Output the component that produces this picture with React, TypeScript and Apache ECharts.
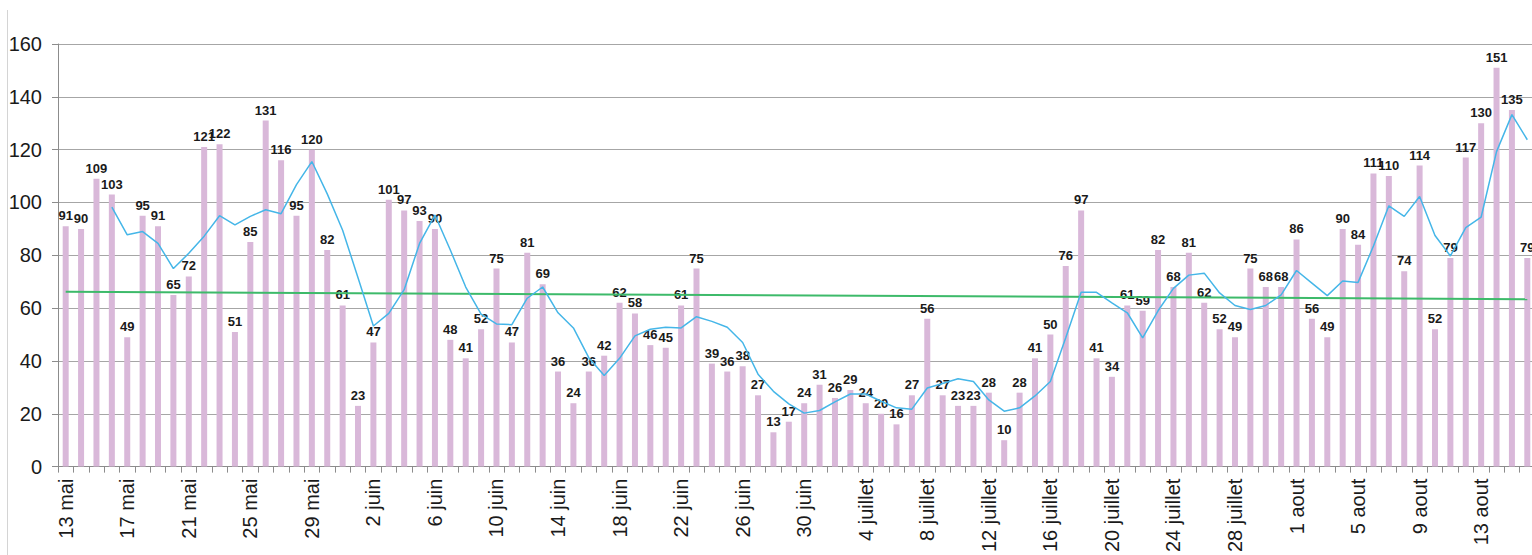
import React, { useEffect, useRef } from "react";
import * as echarts from "echarts";

// Category labels: daily from 13 mai to 16 aout
const monthSpans: [string, number, number][] = [
  ["mai", 13, 31],
  ["juin", 1, 30],
  ["juillet", 1, 31],
  ["aout", 1, 16],
];
const categories: string[] = [];
monthSpans.forEach(([m, a, b]) => {
  for (let d = a; d <= b; d++) categories.push(`${d} ${m}`);
});

// Daily values (bars)
const dailyValues: number[] = [
  91, 90, 109, 103, 49, 95, 91, 65, 72, 121,
  122, 51, 85, 131, 116, 95, 120, 82, 61, 23,
  47, 101, 97, 93, 90, 48, 41, 52, 75, 47,
  81, 69, 36, 24, 36, 42, 62, 58, 46, 45,
  61, 75, 39, 36, 38, 27, 13, 17, 24, 31,
  26, 29, 24, 20, 16, 27, 56, 27, 23, 23,
  28, 10, 28, 41, 50, 76, 97, 41, 34, 61,
  59, 82, 68, 81, 62, 52, 49, 75, 68, 68,
  86, 56, 49, 90, 84, 111, 110, 74, 114, 52,
  79, 117, 130, 151, 135, 79,
];

// Linear trend line end points
const trendStart = 66.2;
const trendEnd = 63.4;

// Y axis ticks
const yMin = 0;
const yMax = 160;
const yStep = 20;

// 4-period moving average trendline of the daily values (as in the original chart)
const maPeriod = 4;
const movingAvg: (number | null)[] = dailyValues.map((_, i) => {
  if (i < maPeriod - 1) return null;
  let s = 0;
  for (let k = i - maPeriod + 1; k <= i; k++) s += dailyValues[k];
  return s / maPeriod;
});

const trendData: (number | null)[] = categories.map((_, i) =>
  i === 0 ? trendStart : i === categories.length - 1 ? trendEnd : null
);

export default function App() {
  const ref = useRef<HTMLDivElement>(null);
  useEffect(() => {
    if (!ref.current) return;
    const chart = echarts.init(ref.current, null, { renderer: "svg" });
    const font = "Liberation Sans, Arial, sans-serif";
    chart.setOption({
      animation: false,
      backgroundColor: "#ffffff",
      grid: { left: 58, top: 44, width: 1477, height: 427, containLabel: false },
      xAxis: {
        type: "category",
        data: categories,
        boundaryGap: true,
        axisLine: { show: true, lineStyle: { color: "#8c8c8c", width: 1 } },
        axisTick: { show: true, interval: 0, length: 6, lineStyle: { color: "#8c8c8c" } },
        axisLabel: {
          interval: 3,
          rotate: 90,
          fontSize: 20,
          fontFamily: font,
          color: "#1a1a1a",
          margin: 12,
        },
        splitLine: { show: false },
      },
      yAxis: {
        type: "value",
        min: yMin,
        max: yMax,
        interval: yStep,
        axisLine: { show: true, lineStyle: { color: "#8c8c8c", width: 1 } },
        axisTick: { show: true, length: 6, lineStyle: { color: "#8c8c8c" } },
        axisLabel: { fontSize: 20, fontFamily: font, color: "#1a1a1a", margin: 16 },
        splitLine: { show: true, lineStyle: { color: "#a6a6a6", width: 1 } },
      },
      graphic: [
        {
          type: "line",
          shape: { x1: 7.5, y1: 10, x2: 7.5, y2: 560 },
          style: { stroke: "#d4d4d4", lineWidth: 1 },
          silent: true,
        },
      ],
      series: [
        {
          type: "bar",
          data: dailyValues,
          barWidth: 6,
          itemStyle: { color: "#d9b8d9" },
          label: {
            show: true,
            position: "top",
            distance: 4,
            fontSize: 13,
            fontWeight: "bold",
            fontFamily: font,
            color: "#1a1a1a",
          },
          z: 2,
        },
        {
          type: "line",
          data: trendData,
          connectNulls: true,
          showSymbol: false,
          symbol: "none",
          lineStyle: { color: "#3dba6a", width: 2 },
          z: 3,
        },
        {
          type: "line",
          data: movingAvg,
          showSymbol: false,
          symbol: "none",
          lineStyle: { color: "#45b6e8", width: 1.5 },
          z: 4,
        },
      ],
    });
    return () => chart.dispose();
  }, []);
  return (
    <div
      style={{
        position: "fixed",
        left: 0,
        top: 0,
        width: 1532,
        height: 555,
        overflow: "hidden",
        background: "#fff",
      }}
    >
      <div ref={ref} style={{ width: 1545, height: 555 }} />
    </div>
  );
}
